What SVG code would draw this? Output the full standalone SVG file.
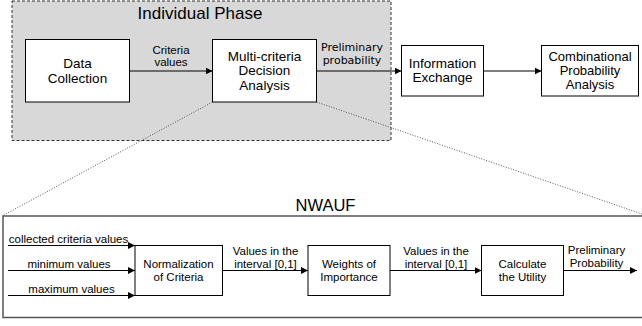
<svg xmlns="http://www.w3.org/2000/svg" width="642" height="326" viewBox="0 0 642 326">
<style>
.t{font-family:"Liberation Sans",Arial,sans-serif;fill:#000;text-anchor:middle}
.b14{font-size:13.5px}
.b13{font-size:13px}
.b12{font-size:11.5px}
.l{font-size:11.5px}
.d{font-family:"DejaVu Sans",sans-serif;font-size:11px;fill:#000;text-anchor:middle}
.box{fill:#fff;stroke:#000;stroke-width:1}
.ar{fill:none;stroke:#000;stroke-width:1.2;marker-end:url(#ah)}
.dot{fill:none;stroke:#444;stroke-width:0.9;stroke-dasharray:1 1.6}
</style>
<defs>
<marker id="ah" viewBox="0 0 10 10" refX="10" refY="5" markerWidth="7" markerHeight="7" markerUnits="userSpaceOnUse" orient="auto">
<path d="M0,0 L10,5 L0,10 z" fill="#000"/>
</marker>
</defs>
<g id="individual-phase">
<rect x="12" y="1" width="379" height="139.5" fill="#d8d8d8" stroke="#333" stroke-width="1" stroke-dasharray="3 2"/>
<text class="t" x="200" y="18.5" font-size="17">Individual Phase</text>
</g>
<g id="nwauf">
<rect x="3" y="216" width="650" height="101.5" fill="#fff" stroke="#555" stroke-width="1.5"/>
<text class="t" x="325.5" y="210.5" font-size="16.5">NWAUF</text>
</g>
<g id="connectors">
<line class="dot" x1="212.5" y1="102" x2="3" y2="215.5"/>
<line class="dot" x1="316.5" y1="102" x2="642" y2="214"/>
<line class="ar" x1="129.5" y1="71" x2="212.5" y2="71"/>
<text class="t l" x="171" y="54">Criteria</text>
<text class="t l" x="171" y="66">values</text>
<line class="ar" x1="316.5" y1="71" x2="401.5" y2="71"/>
<text class="d" x="352" y="50.5">Preliminary</text>
<text class="d" x="352" y="63.5">probability</text>
<line class="ar" x1="483.5" y1="71" x2="541.5" y2="71"/>
<line class="ar" x1="8" y1="245.5" x2="135" y2="245.5"/>
<line class="ar" x1="8" y1="270.5" x2="135" y2="270.5"/>
<line class="ar" x1="8" y1="295.5" x2="135" y2="295.5"/>
<text class="t b12" x="68.5" y="242.5">collected criteria values</text>
<text class="t b12" x="69" y="267.5">minimum values</text>
<text class="t b12" x="71.5" y="292.5">maximum values</text>
<line class="ar" x1="222.5" y1="270.5" x2="308" y2="270.5"/>
<text class="t b12" x="265.5" y="254.5">Values in the</text>
<text class="t b12" x="265.5" y="267.5">interval [0,1]</text>
<line class="ar" x1="390" y1="270.5" x2="481.5" y2="270.5"/>
<text class="t b12" x="436" y="254.5">Values in the</text>
<text class="t b12" x="436" y="267.5">interval [0,1]</text>
<line class="ar" x1="563.5" y1="270.5" x2="637" y2="270.5"/>
<text class="t b12" x="596.5" y="254">Preliminary</text>
<text class="t b12" x="596.5" y="267">Probability</text>
</g>
<g id="data-collection">
<rect class="box" x="25.5" y="39.5" width="104" height="62.5"/>
<text class="t b14" x="77.5" y="67.5">Data</text>
<text class="t b14" x="77.5" y="83">Collection</text>
</g>
<g id="mcda">
<rect class="box" x="212.5" y="39.5" width="104" height="62.5"/>
<text class="t b14" x="264.5" y="60.5">Multi-criteria</text>
<text class="t b14" x="264.5" y="75">Decision</text>
<text class="t b14" x="264.5" y="89.5">Analysis</text>
</g>
<g id="information-exchange">
<rect class="box" x="401.5" y="45.5" width="82" height="50.5"/>
<text class="t b14" x="442.5" y="67.5">Information</text>
<text class="t b14" x="442.5" y="82">Exchange</text>
</g>
<g id="combinational">
<rect class="box" x="541.5" y="45.5" width="97" height="50.5"/>
<text class="t b13" x="590" y="60.5">Combinational</text>
<text class="t b13" x="590" y="74.5">Probability</text>
<text class="t b13" x="590" y="88.5">Analysis</text>
</g>
<g id="normalization">
<rect class="box" x="135" y="245.5" width="87.5" height="50"/>
<text class="t b12" x="178.5" y="267.5">Normalization</text>
<text class="t b12" x="178.5" y="281">of Criteria</text>
</g>
<g id="weights">
<rect class="box" x="308" y="245.5" width="82" height="50"/>
<text class="t b12" x="349" y="267.5">Weights of</text>
<text class="t b12" x="349" y="281">Importance</text>
</g>
<g id="calculate">
<rect class="box" x="481.5" y="245.5" width="82" height="50"/>
<text class="t b12" x="522.5" y="267.5">Calculate</text>
<text class="t b12" x="522.5" y="281">the Utility</text>
</g>
</svg>
